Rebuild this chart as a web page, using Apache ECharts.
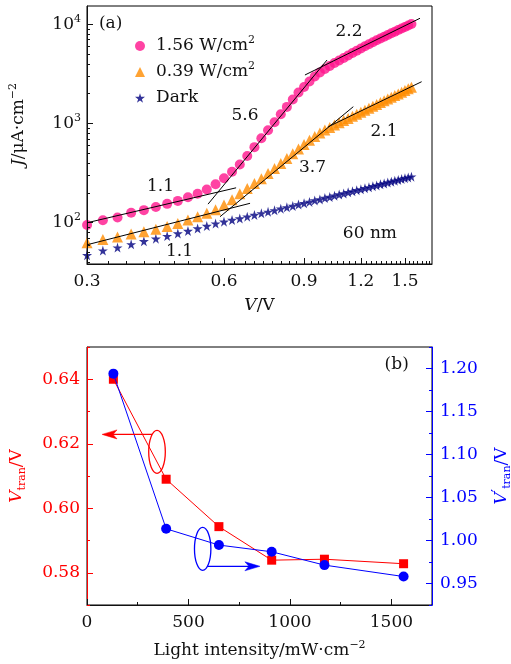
<!DOCTYPE html>
<html>
<head>
<meta charset="utf-8">
<script src="https://cdn.jsdelivr.net/npm/echarts@6/dist/echarts.min.js"></script>
<style>
  html, body { margin: 0; padding: 0; background: #fff; }
  #chart { width: 511px; height: 664px; }
</style>
</head>
<body>
<div id="chart"></div>
<script>
// ---- (a) J–V curves, 60 nm device ----
const voltage = [0.300,0.325,0.350,0.375,0.400,0.425,0.450,0.475,0.500,0.525,
                 0.550,0.575,0.600,0.625,0.650,0.675,0.700,0.725,0.750,0.775,
                 0.800,0.825,0.850,0.875,0.900,0.925,0.950,0.975,1.000,1.025,
                 1.050,1.075,1.100,1.125,1.150,1.175,1.200,1.225,1.250,1.275,
                 1.300,1.325,1.350,1.375,1.400,1.425,1.450,1.475,1.500,1.525,1.550];
// current density, µA/cm²
const jHigh = [95,106,113,126,134,144,155,166,181,196,
               216,244,281,327,386,470,578,710,855,1030,
               1240,1470,1745,2050,2330,2650,2975,3270,3540,3800,
               4070,4310,4580,4850,5130,5420,5700,6000,6300,6600,
               6900,7200,7500,7790,8110,8420,8760,9070,9390,9720,10050];
const jLow = [63,67.7,71.8,77,81,86,91.5,98,106.5,115,
              124.5,135,151,171,196,221,248,278,313,352,
              395,444,496,553,614,677,740,802,860,912,
              966,1016,1072,1126,1182,1241,1300,1362,1427,1491,
              1558,1624,1693,1766,1841,1911,1988,2068,2151,2238,2322];
const jDark = [47,52.4,56.2,60.6,65,69,73.4,77.8,82.5,87.4,
               92.6,98,102.4,106.5,110.2,115,119.6,124.4,128.8,133.4,
               138.4,143,147.3,152.6,157,162,168,172,177.4,181.6,
               187.6,192.4,197,202.6,207.3,212.7,217,222.8,227.5,233.4,
               237.7,244,248.5,254.3,259,265.2,270.2,275.8,281,286.2,291.5];
const seriesNames = ['1.56 W/cm²', '0.39 W/cm²', 'Dark'];

// power-law fit segments [V, J]
const fitHigh1 = [[0.3, 100], [0.638, 225]];
const fitHigh2 = [[0.5535, 154], [1.011, 4366]];
const fitHigh3 = [[0.904, 3083], [1.6185, 11495]];
const fitLow1 = [[0.3, 60], [0.6847, 157]];
const fitLow2 = [[0.588, 115], [1.1548, 1477]];
const fitLow3 = [[1.0174, 928], [1.632, 2638]];

const vTicks = [0.3, 0.6, 0.9, 1.2, 1.5];
const jTicks = [100, 1000, 10000];

// ---- (b) transition voltages vs light intensity ----
const intensity = [130, 390, 650, 910, 1170, 1560];      // mW/cm²
const vTran = [0.640, 0.609, 0.5943, 0.5839, 0.5842, 0.5828];
const vTranPrime = [1.194, 1.0136, 0.9947, 0.9869, 0.9714, 0.9581];
const intensityTicks = [0, 500, 1000, 1500];
const vTranTicks = [0.58, 0.60, 0.62, 0.64];
const vTranPrimeTicks = [0.95, 1.00, 1.05, 1.10, 1.15, 1.20];

// slope / thickness notes placed in data coordinates of panel (a)
const notesA = [
  { text: '(a)',   at: [0.338, 10235] },
  { text: '1.1',   at: [0.435, 230] },
  { text: '1.1',   at: [0.479, 51] },
  { text: '5.6',   at: [0.6675, 1190] },
  { text: '3.7',   at: [0.939, 356] },
  { text: '2.2',   at: [1.13, 8360] },
  { text: '2.1',   at: [1.349, 827] },
  { text: '60 nm', at: [1.256, 78] }
];

const FONT = 'DejaVu Serif';
const INK = '#111111';
const PINK = '#ff148c';
const ORANGE = '#ff8c00';
const NAVY = '#000080';
const RED = '#ff0000';
const BLUE = '#0000ff';
const STAR = 'path://M50,2 L61,37 L98,37 L68,59 L79,94 L50,72 L21,94 L32,59 L2,37 L39,37 Z';

const pairs = (xs, ys) => xs.map((x, i) => [x, ys[i]]);

function richSet(color) {
  return {
    i:   { fontFamily: FONT, fontSize: 17, fontStyle: 'italic', color, lineHeight: 22 },
    n:   { fontFamily: FONT, fontSize: 17, color, lineHeight: 22 },
    sup: { fontFamily: FONT, fontSize: 11, color, verticalAlign: 'top', lineHeight: 12 },
    pr:  { fontFamily: FONT, fontSize: 15, color, verticalAlign: 'top', lineHeight: 14 },
    sub: { fontFamily: FONT, fontSize: 11, color, verticalAlign: 'bottom', lineHeight: 12 }
  };
}
function textStyle(color, extra) {
  return Object.assign({ fontFamily: FONT, fontSize: 17, color, lineHeight: 22, rich: richSet(color) }, extra || {});
}

// minor tick positions
const vMinor = [];
for (let k = 1; k <= 42; k++) if (k % 9 !== 0) vMinor.push(+(0.3 + k / 30).toFixed(5));
const jMinor = [];
for (let e = 1; e <= 4; e++) for (let m = 2; m <= 9; m++) {
  const v = m * Math.pow(10, e);
  if (v >= 38.4 && v <= 15280) jMinor.push(v);
}

function majorAxis(base) {
  const color = base.color || INK;
  return Object.assign({
    axisLine: { show: true, lineStyle: { color, width: 1 } },
    axisTick: { show: true, inside: true, length: 6, customValues: base.ticks, lineStyle: { color, width: 1 } },
    axisLabel: { show: true, customValues: base.ticks, margin: base.margin || 7, formatter: base.fmt,
                 fontFamily: FONT, fontSize: 17, color, lineHeight: 22, rich: richSet(color) },
    splitLine: { show: false },
    minorTick: { show: false },
    z: 3
  }, base.opt);
}
function minorAxis(base) {
  const color = base.color || INK;
  return Object.assign({
    axisLine: { show: false },
    axisTick: { show: true, inside: true, length: 3, customValues: base.ticks, lineStyle: { color, width: 1 } },
    axisLabel: { show: false },
    splitLine: { show: false },
    z: 3
  }, base.opt);
}

const logX = { type: 'log', logBase: 10, gridIndex: 0, position: 'bottom', min: 0.2999, max: 1.72 };
const logY = { type: 'log', logBase: 10, gridIndex: 0, position: 'left', min: 38.4, max: 15280 };
const linX = { type: 'value', gridIndex: 1, position: 'bottom', min: 0, max: 1700 };

const option = {
  animation: false,
  backgroundColor: '#ffffff',
  grid: [
    { left: 87, top: 6, width: 345, height: 258, show: true, borderColor: '#000', borderWidth: 1, outerBoundsMode: 'none' },
    { left: 87, top: 347, width: 345, height: 258, show: true, borderColor: '#000', borderWidth: 1, outerBoundsMode: 'none' }
  ],
  legend: {
    left: 130, top: 30, orient: 'vertical', itemWidth: 10, itemHeight: 10, itemGap: 4,
    data: [
      { name: seriesNames[0], icon: 'circle' },
      { name: seriesNames[1], icon: 'triangle' },
      { name: seriesNames[2], icon: STAR }
    ],
    formatter: name => name.replace('²', '{sup|2}'),
    textStyle: textStyle(INK, { padding: [0, 0, 0, 6] })
  },
  xAxis: [
    majorAxis({ ticks: vTicks, fmt: v => v.toFixed(1),
      opt: Object.assign({}, logX, { name: '{i|V}/V', nameLocation: 'middle', nameGap: 31, nameTextStyle: textStyle(INK) }) }),
    minorAxis({ ticks: vMinor, opt: logX }),
    majorAxis({ ticks: intensityTicks, fmt: v => String(v),
      opt: Object.assign({}, linX, { name: 'Light intensity/mW·cm{sup|−2}', nameLocation: 'middle', nameGap: 35, nameTextStyle: textStyle(INK) }) }),
    minorAxis({ ticks: [250, 750, 1250], opt: linX })
  ],
  yAxis: [
    majorAxis({ ticks: jTicks, margin: 6, fmt: v => '10{sup|' + Math.round(Math.log10(v)) + '}',
      opt: Object.assign({}, logY, { name: '{i|J}/μA·cm{sup|−2}', nameLocation: 'middle', nameRotate: 90, nameGap: 57,
        nameTextStyle: textStyle(INK, { padding: [0, 0, 0, 21] }) }) }),
    minorAxis({ ticks: jMinor, opt: logY }),
    majorAxis({ ticks: vTranTicks, color: RED, fmt: v => v.toFixed(2),
      opt: { type: 'value', gridIndex: 1, position: 'left', min: 0.57, max: 0.65,
             name: '{i|V}{sub|tran}/V', nameLocation: 'middle', nameRotate: 90, nameGap: 59, nameTextStyle: textStyle(RED) } }),
    minorAxis({ ticks: [0.57, 0.59, 0.61, 0.63, 0.65], color: RED,
      opt: { type: 'value', gridIndex: 1, position: 'left', min: 0.57, max: 0.65 } }),
    majorAxis({ ticks: vTranPrimeTicks, color: BLUE, margin: 8, fmt: v => v.toFixed(2),
      opt: { type: 'value', gridIndex: 1, position: 'right', min: 0.925, max: 1.225,
             name: '{i|V}{pr|′}{sub|tran}/V', nameLocation: 'middle', nameRotate: 90, nameGap: 59, nameTextStyle: textStyle(BLUE) } }),
    minorAxis({ ticks: [0.925, 0.975, 1.025, 1.075, 1.125, 1.175, 1.225], color: BLUE,
      opt: { type: 'value', gridIndex: 1, position: 'right', min: 0.925, max: 1.225 } })
  ],
  series: [
    { type: 'scatter', name: seriesNames[2], xAxisIndex: 0, yAxisIndex: 0, data: pairs(voltage, jDark),
      symbol: STAR, symbolSize: 10, itemStyle: { color: NAVY }, z: 2 },
    { type: 'scatter', name: seriesNames[1], xAxisIndex: 0, yAxisIndex: 0, data: pairs(voltage, jLow),
      symbol: 'triangle', symbolSize: 11, itemStyle: { color: ORANGE }, z: 2 },
    { type: 'scatter', name: seriesNames[0], xAxisIndex: 0, yAxisIndex: 0, data: pairs(voltage, jHigh),
      symbol: 'circle', symbolSize: 10, itemStyle: { color: PINK }, z: 2 },
    ...[fitHigh1, fitHigh2, fitHigh3, fitLow1, fitLow2, fitLow3].map(seg => ({
      type: 'line', xAxisIndex: 0, yAxisIndex: 0, data: seg, symbol: 'none', silent: true,
      lineStyle: { color: '#000', width: 1 }, z: 5
    })),
    { type: 'line', xAxisIndex: 2, yAxisIndex: 2, data: pairs(intensity, vTran),
      symbol: 'rect', symbolSize: 9, lineStyle: { color: RED, width: 1 }, itemStyle: { color: RED }, z: 3 },
    { type: 'line', xAxisIndex: 2, yAxisIndex: 4, data: pairs(intensity, vTranPrime),
      symbol: 'circle', symbolSize: 10, lineStyle: { color: BLUE, width: 1 }, itemStyle: { color: BLUE }, z: 4 }
  ]
};

const chart = echarts.init(document.getElementById('chart'), null, { renderer: 'canvas' });
chart.setOption(option);

// loops with arrows pointing each curve to its own axis (panel b, left-axis data units)
const loops = [
  { color: RED,  center: [345, 0.6175], rx: 8.3, ry: 21.5, arrowY: 0.6229, tipX: 74 },
  { color: BLUE, center: [570, 0.5874], rx: 8.2, ry: 21.5, arrowY: 0.5820, tipX: 852 }
];

const pa = (x, y) => chart.convertToPixel({ xAxisIndex: 0, yAxisIndex: 0 }, [x, y]);
const pb = (x, y) => chart.convertToPixel({ xAxisIndex: 2, yAxisIndex: 2 }, [x, y]);

const graphics = [];
notesA.forEach(n => {
  const p = pa(n.at[0], n.at[1]);
  graphics.push({ type: 'text', x: p[0], y: p[1], z: 10, silent: true,
    style: { text: n.text, fill: INK, fontFamily: FONT, fontSize: 17, align: 'center', verticalAlign: 'middle' } });
});
const pB = pb(1526, 0.6447);
graphics.push({ type: 'text', x: pB[0], y: pB[1], z: 10, silent: true,
  style: { text: '(b)', fill: INK, fontFamily: FONT, fontSize: 17, align: 'center', verticalAlign: 'middle' } });

loops.forEach(L => {
  const c = pb(L.center[0], L.center[1]);
  const t = pb(L.tipX, L.arrowY);
  const dy = t[1] - c[1];
  const half = L.rx * Math.sqrt(Math.max(0, 1 - (dy / L.ry) * (dy / L.ry)));
  const dir = t[0] < c[0] ? -1 : 1;
  const x0 = c[0] + dir * half;
  const tip = t[0], y = t[1];
  graphics.push({ type: 'ellipse', z: 10, silent: true, shape: { cx: c[0], cy: c[1], rx: L.rx, ry: L.ry },
    style: { fill: 'none', stroke: L.color, lineWidth: 1.3 } });
  graphics.push({ type: 'line', z: 10, silent: true, shape: { x1: x0, y1: y, x2: tip - dir * 10, y2: y },
    style: { stroke: L.color, lineWidth: 1.3 } });
  graphics.push({ type: 'polygon', z: 10, silent: true,
    shape: { points: [[tip, y], [tip - dir * 15, y - 4.5], [tip - dir * 11, y], [tip - dir * 15, y + 4.5]] },
    style: { fill: L.color, stroke: L.color, lineWidth: 0.5 } });
});

chart.setOption({ graphic: graphics });
</script>
</body>
</html>
